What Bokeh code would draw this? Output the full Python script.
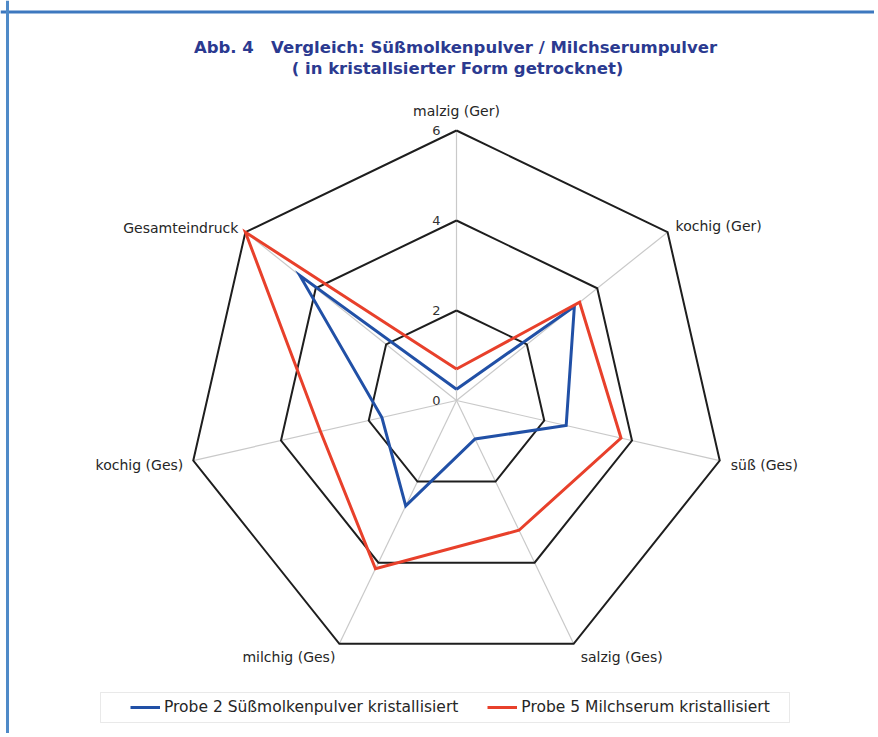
import math
from bokeh.plotting import figure
from bokeh.models import Range1d, Span, BoxAnnotation, Legend, LegendItem, ColumnDataSource
from bokeh.core.properties import value
from bokeh.embed import file_html
from bokeh.resources import INLINE

# ---------------- data ----------------
categories = ["malzig (Ger)", "kochig (Ger)", "süß (Ges)", "salzig (Ges)",
              "milchig (Ges)", "kochig (Ges)", "Gesamteindruck"]
probe2 = [0.25, 3.35, 2.5, 0.95, 2.6, 1.7, 4.45]
probe5 = [0.7, 3.5, 3.75, 3.2, 4.15, 3.1, 6.0]
series_names = ["Probe 2 Süßmolkenpulver kristallisiert",
                "Probe 5 Milchserum kristallisiert"]
ticks = [0, 2, 4, 6]
r_max = 6
title_lines = ["Abb. 4\u00a0\u00a0\u00a0Vergleich: Süßmolkenpulver / Milchserumpulver",
               "( in kristallsierter Form getrocknet)"]

# ---------------- layout ----------------
SCALE = 45.0          # pixels per value unit
OX, OY = 0, 0         # page position of the figure's top-left corner
W, H = 874, 733
CX, CY = 456, 400     # page position of the radar centre


def px(xp):
    return (xp - CX) / SCALE


def py(yp):
    return (CY - yp) / SCALE


FONT_NAME = "DejaVu Sans"
FONT = value(FONT_NAME)
BLUE = "#2150a6"
RED = "#e8402b"

p = figure(width=W, height=H,
           x_range=Range1d(px(OX), px(OX + W)), y_range=Range1d(py(OY + H), py(OY)),
           output_backend="svg", toolbar_location=None, min_border=0,
           x_axis_location=None, y_axis_location=None,
           outline_line_color=None, background_fill_color="white",
           border_fill_color="white")
p.xgrid.visible = False
p.ygrid.visible = False

N = len(categories)
theta = [2 * math.pi * i / N for i in range(N)]


def polar(vals):
    xs = [v * math.sin(t) for v, t in zip(vals, theta)]
    ys = [v * math.cos(t) for v, t in zip(vals, theta)]
    return xs + xs[:1], ys + ys[:1]


# spokes
p.multi_line(xs=[[0, r_max * math.sin(t)] for t in theta],
             ys=[[0, r_max * math.cos(t)] for t in theta],
             line_color="#c9c9c9", line_width=1.2)

# grid polygons
for tv in ticks[1:]:
    gx, gy = polar([tv] * N)
    p.line(gx, gy, line_color="#1e1e1e", line_width=2, line_join="miter")

# data
x2, y2 = polar(probe2)
x5, y5 = polar(probe5)
r2 = p.line(x2, y2, line_color=BLUE, line_width=3, line_join="miter")
r5 = p.line(x5, y5, line_color=RED, line_width=3, line_join="miter")

# tick labels
p.text(x=[px(CX - 16)] * len(ticks), y=[t for t in ticks],
       text=[str(t) for t in ticks], text_align="right", text_baseline="middle",
       text_font=FONT, text_font_size=value("13px"), text_color="#333333")

# category labels
lab_dx = [0, 8, 11, 7, -4, -10, -7]
lab_dy = [-20, -6, 4, 13, 13, 4, -4]
lab_align = ["center", "left", "left", "left", "right", "right", "right"]
src = ColumnDataSource(dict(
    x=[r_max * math.sin(t) + dx / SCALE for t, dx in zip(theta, lab_dx)],
    y=[r_max * math.cos(t) - dy / SCALE for t, dy in zip(theta, lab_dy)],
    text=categories, align=lab_align))
p.text(x="x", y="y", text="text", text_align="align", text_baseline="middle",
       text_font=FONT, text_font_size=value("14px"), text_color="#262626",
       source=src)

# title
p.text(x=[px(455), px(457)], y=[py(47), py(68)], text=title_lines,
       text_align="center", text_baseline="middle",
       text_font=FONT, text_font_size=value("16.5px"), text_font_style="bold",
       text_color="#2b3a90")

# page frame lines
p.add_layout(Span(location=py(11.5), dimension="width", line_color="#3d78bf", line_width=3))
p.add_layout(Span(location=px(7), dimension="height", line_color="#4f8ac8", line_width=3))

# legend box
p.add_layout(BoxAnnotation(left=px(100), right=px(789), top=py(692), bottom=py(722),
                           fill_color="white", fill_alpha=1,
                           line_color="#b5b5b5", line_width=1))

legend = Legend(items=[LegendItem(label=series_names[0], renderers=[r2]),
                       LegendItem(label=series_names[1], renderers=[r5])],
                orientation="horizontal", location=(130 - OX, OY + H - 717),
                glyph_width=30, glyph_height=20, label_standoff=4, spacing=29,
                padding=0, margin=0, border_line_alpha=0, background_fill_alpha=0,
                label_text_font=FONT_NAME, label_text_font_size="15.5px",
                label_text_color="#262626")
p.add_layout(legend)

open("out.html", "w").write(file_html(p, INLINE))
